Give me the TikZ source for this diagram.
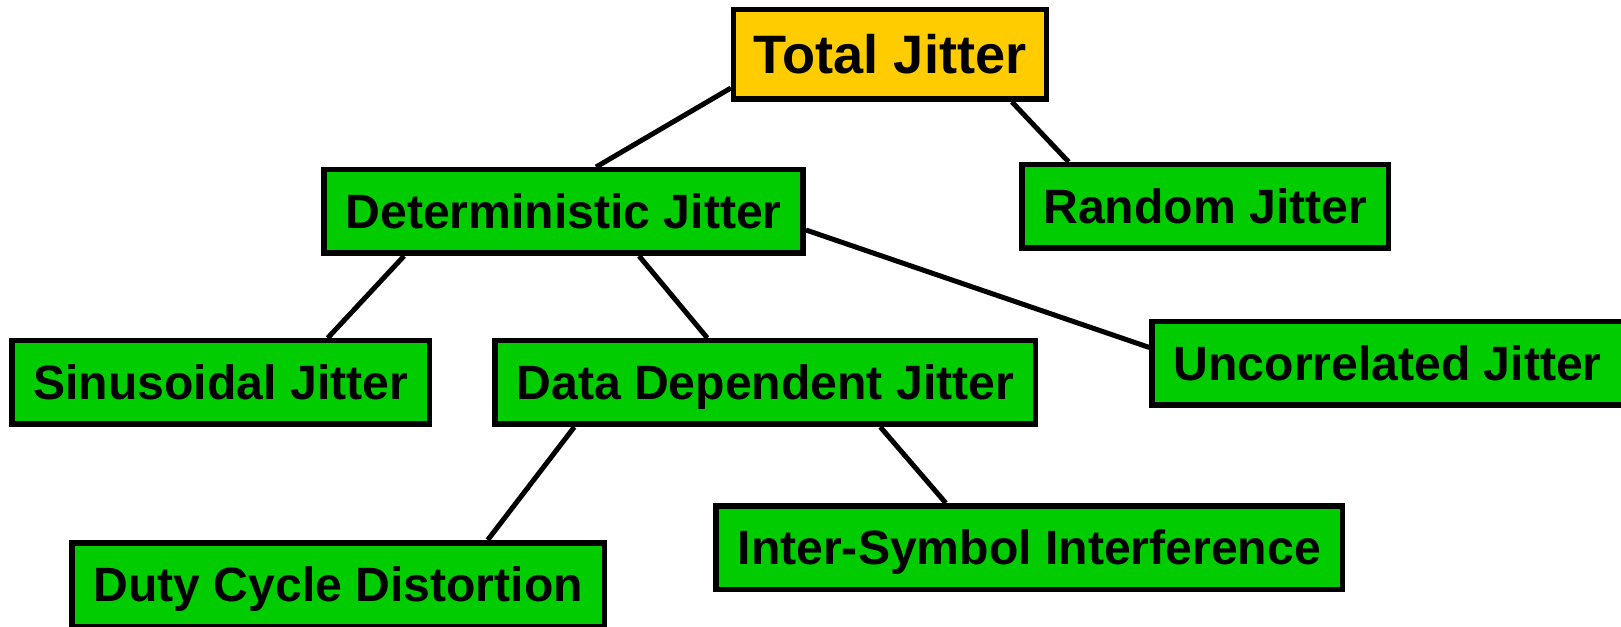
\documentclass[tikz,border=0pt]{standalone}
\usepackage{fontspec}
\setmainfont{Liberation Sans}
\usepackage{tikz}
\usetikzlibrary{positioning}
\definecolor{jgreen}{HTML}{00CC00}
\definecolor{jyellow}{HTML}{FFCC00}
\tikzset{
	jitbox/.style={draw, line width=0.11cm, fill=jgreen, font=\fontsize{27.4}{30}\selectfont\bfseries,
		inner xsep=0.43cm, inner ysep=0pt, minimum height=1.67cm, text height=19.6pt, text depth=0pt},
	jitroot/.style={jitbox, fill=jyellow, font=\fontsize{30.8}{33}\selectfont\bfseries,
		inner xsep=0.4cm, minimum height=1.79cm, text height=22pt},
	jitline/.style={line width=0.1cm}
}

\begin{document}
\begin{tikzpicture}
		
		\useasboundingbox (-17.8,1.09) rectangle (14.62,-11.45);
		
		\node(tj)  [jitroot]                                  {Total Jitter};
		\node(dj)  [jitbox, below left=1.3cm and -1.5cm of tj]   {Deterministic Jitter};
		\node(rj)  [jitbox, below right=1.2cm and -0.6cm of tj]  {Random Jitter};
		\node(sj)  [jitbox, below left=1.64cm and -2.22cm of dj] {Sinusoidal Jitter};
		\node(ddj) [jitbox, right=1.2cm of sj]                   {Data Dependent Jitter};
		\node(uj)  [jitbox, right=2.22cm of ddj, yshift=0.38cm]  {Uncorrelated Jitter};
		\node(dcd) [jitbox, below left=2.26cm and -2.3cm of ddj] {Duty Cycle Distortion};
		\node(isi) [jitbox, below right=1.52cm and -6.5cm of ddj] {Inter-Symbol Interference};
		
		\draw[jitline]([yshift=0.28cm]tj.south west) -- ([xshift=0.65cm]dj.north);
		\draw[jitline]([xshift=2.44cm]tj.south) -- ([xshift=-2.73cm]rj.north);
		
		\draw[jitline]([xshift=-3.19cm]dj.south) -- ([xshift=2.14cm]sj.north);
		\draw[jitline]([xshift=1.51cm]dj.south) -- ([xshift=-1.16cm]ddj.north);
		\draw[jitline]([yshift=-0.37cm]dj.east) -- ([yshift=0.32cm]uj.west);
		
		\draw[jitline]([xshift=-3.82cm]ddj.south) -- ([xshift=2.99cm]dcd.north);
		\draw[jitline]([xshift=2.3cm]ddj.south) -- ([xshift=-1.67cm]isi.north);
		
	\end{tikzpicture}
\end{document}
